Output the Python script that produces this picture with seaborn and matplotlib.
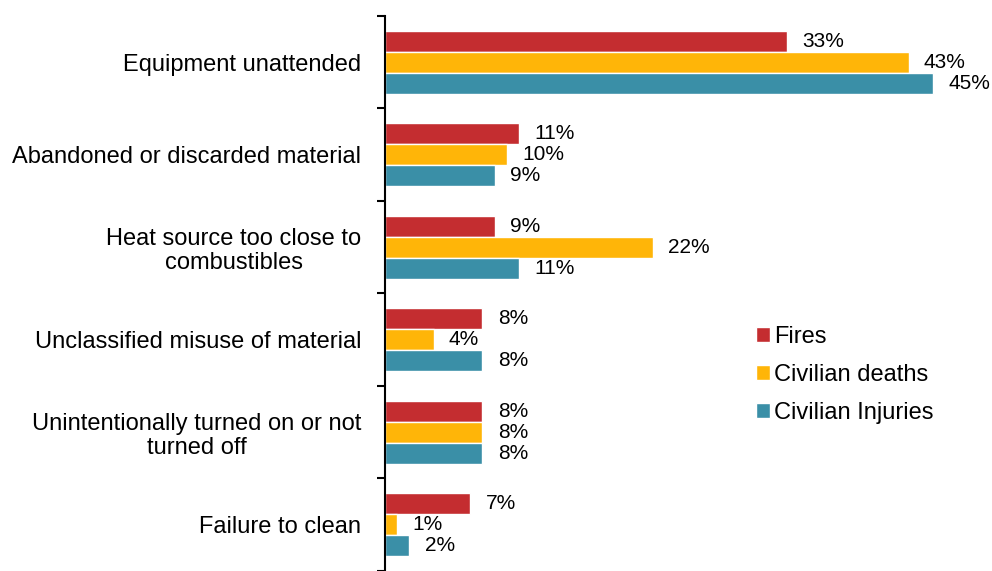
import numpy as np
import pandas as pd
import matplotlib
matplotlib.use("Agg")
import matplotlib.pyplot as plt
import seaborn as sns

categories = [
    "Equipment unattended",
    "Abandoned or discarded material",
    "Heat source too close to\ncombustibles",
    "Unclassified misuse of material",
    "Unintentionally turned on or not\nturned off",
    "Failure to clean",
]
series = ["Fires", "Civilian deaths", "Civilian Injuries"]
fires = [33, 11, 9, 8, 8, 7]
deaths = [43, 10, 22, 4, 8, 1]
injuries = [45, 9, 11, 8, 8, 2]
colors = ["#C42D30", "#FFB508", "#3A8FA7"]

df = pd.DataFrame({
    "cause": categories * 3,
    "value": fires + deaths + injuries,
    "series": [s for s in series for _ in categories],
})

sns.set_style("white")
plt.rcParams["font.family"] = ["Liberation Sans", "DejaVu Sans"]
plt.rcParams["text.color"] = "black"

fig = plt.figure(figsize=(9.92, 5.71), dpi=100)
ax = fig.add_axes([0.388, 0.0, 0.614, 0.972])

sns.barplot(data=df, y="cause", x="value", hue="series", order=categories,
            hue_order=series, palette=colors, orient="h", width=0.68,
            gap=0, saturation=1, ax=ax, legend=True)

for cont in ax.containers:
    ax.bar_label(cont, labels=[f"{int(v)}%" for v in cont.datavalues],
                 padding=11, fontsize=15, color="black")

ax.set_xlim(0, 50)
ax.set_ylim(len(categories) - 0.5, -0.5)
ax.set_xlabel("")
ax.set_ylabel("")
ax.set_xticks([])
for s in ["top", "right", "bottom"]:
    ax.spines[s].set_visible(False)
ax.spines["left"].set_color("black")
ax.spines["left"].set_linewidth(1.5)

ax.set_yticks(range(len(categories)))
ax.set_yticklabels(categories, fontsize=17, ha="right", color="black",
                   multialignment="center", linespacing=1.15)
ax.tick_params(axis="y", which="major", length=0, pad=17)
ax.set_yticks(np.arange(-0.5, len(categories), 1), minor=True)
ax.tick_params(axis="y", which="minor", length=6, width=1.5, color="black",
               left=True)

handles, labels = ax.get_legend_handles_labels()
ax.legend(handles, labels, loc="upper left", bbox_to_anchor=(0.745, 0.458),
          bbox_transform=fig.transFigure, frameon=False, fontsize=17,
          handlelength=0.6, handleheight=0.6, handletextpad=0.2,
          labelspacing=0.68, borderpad=0.2)

fig.savefig("out.png", dpi=100)
